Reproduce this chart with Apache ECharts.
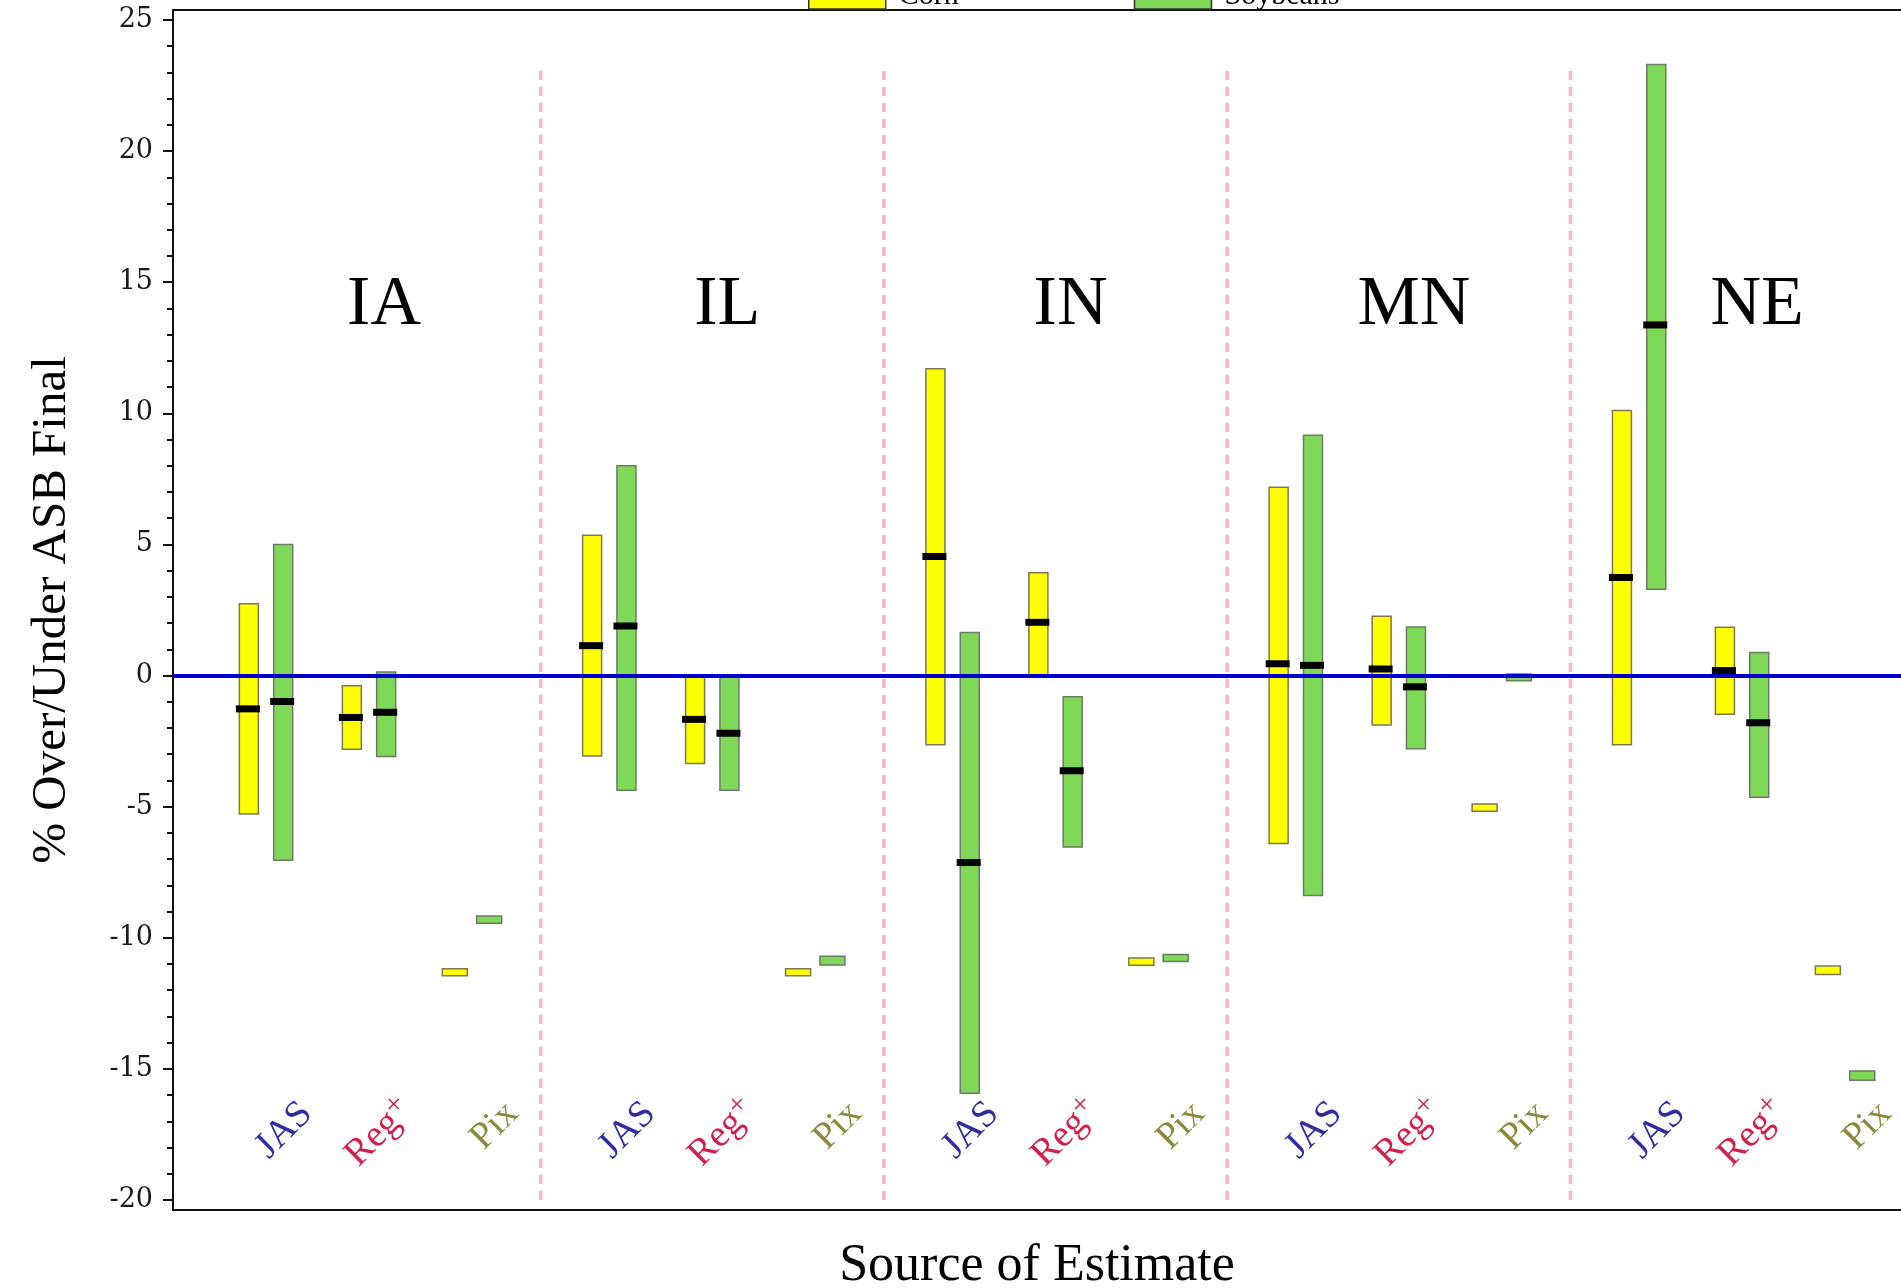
<!DOCTYPE html>
<html>
<head>
<meta charset="utf-8">
<script src="https://cdn.jsdelivr.net/npm/echarts@6/dist/echarts.min.js"></script>
<style>
  html, body { margin: 0; padding: 0; background: #fff; }
  #chart { width: 1901px; height: 1288px; }
</style>
</head>
<body>
<div id="chart"></div>
<script>
// ---------------- data ----------------
const STATES  = ['IA', 'IL', 'IN', 'MN', 'NE'];
const SOURCES = ['JAS', 'Reg', 'Pix'];
// order inside each state: JAS, Reg, Pix
const CORN_LOW  = [ -5.28, -2.81, -11.45,   -3.07, -3.35, -11.45,   -2.64,  0.00, -11.05,   -6.40, -1.89, -5.17,   -2.64, -1.48, -11.40 ];
const CORN_HIGH = [  2.74, -0.39, -11.18,    5.35,  0.00, -11.18,   11.70,  3.92, -10.77,    7.18,  2.26, -4.90,   10.11,  1.84, -11.08 ];
const CORN_EST  = [ -1.27, -1.60,  null,     1.14, -1.67,  null,     4.54,  2.03,  null,     0.45,  0.25,  null,    3.74,  0.19,  null  ];
const SOY_LOW   = [ -7.04, -3.09,  -9.45,   -4.37, -4.37, -11.04,  -15.93, -6.54, -10.90,   -8.39, -2.79, -0.20,    3.29, -4.64, -15.43 ];
const SOY_HIGH  = [  5.00,  0.14,  -9.17,    8.00,  0.00, -10.70,    1.64, -0.81, -10.64,    9.16,  1.85,  0.06,   23.30,  0.88, -15.08 ];
const SOY_EST   = [ -0.99, -1.40,  null,     1.89, -2.20,  null,    -7.13, -3.63,  null,     0.39, -0.43,  null,   13.37, -1.80,  null  ];
const Y_TICKS   = [-20, -15, -10, -5, 0, 5, 10, 15, 20, 25];

// ---------------- layout ----------------
const GROUP = 10, SRC_START = 2, SRC_STEP = 3;
const X_MIN = -0.71, X_MAX = 49.63;
const Y_MIN = -20.38, Y_MAX = 25.38;
const STATE_LABEL_Y = 14.1;
const SRC_LABEL_Y = -17.0;
const SERIF = '"Liberation Serif", "Times New Roman", serif';
const SRC_COLORS = ['#2E2E9E', '#D0204C', '#8C893C'];

function slotX(s, j) { return s * GROUP + SRC_START + j * SRC_STEP; }

function buildCrop(low, high, est) {
  const d = [];
  STATES.forEach((st, s) => SOURCES.forEach((src, j) => {
    const k = s * SOURCES.length + j;
    d.push([slotX(s, j), low[k], high[k], est[k] == null ? '-' : est[k], j]);
  }));
  return d;
}

const minorTicks = [];
for (let v = Y_TICKS[0]; v <= Y_TICKS[Y_TICKS.length - 1]; v++) if (v % 5 !== 0) minorTicks.push(v);

const DIV_LOW = Y_TICKS[0];
const DIV_HIGH = Math.max(...CORN_HIGH, ...SOY_HIGH);

function cropRender(offset, color, border) {
  return function (params, api) {
    const x = api.value(0), lo = api.value(1), hi = api.value(2), est = api.value(3), j = api.value(4);
    const w = j === 2 ? 25 : 19;
    const pTop = api.coord([x + offset, hi]);
    const pBot = api.coord([x + offset, lo]);
    const children = [{
      type: 'rect',
      shape: { x: pTop[0] - w / 2, y: pTop[1], width: w, height: Math.max(pBot[1] - pTop[1], 1) },
      style: { fill: color, stroke: border, lineWidth: 1.5 }
    }];
    if (isFinite(est)) {
      const pe = api.coord([x + offset, est]);
      children.push({ type: 'rect', shape: { x: pe[0] - 13, y: pe[1] - 3.5, width: 24, height: 7 }, style: { fill: '#000' } });
    }
    return { type: 'group', children };
  };
}

const frameLine = { show: true, onZero: false, lineStyle: { color: '#111', width: 2 } };

const chart = echarts.init(document.getElementById('chart'));
const option = {
  animation: false,
  backgroundColor: '#fff',
  legend: {
    top: -24, left: 803, itemWidth: 77, itemHeight: 26, itemGap: 175,
    textStyle: { fontFamily: SERIF, fontSize: 30, color: '#000', padding: [0, 0, 0, 8] },
    data: [
      { name: 'Corn', icon: 'rect', itemStyle: { color: '#FFFF00', borderColor: '#333', borderWidth: 1.5 } },
      { name: 'Soybeans', icon: 'rect', itemStyle: { color: '#80D858', borderColor: '#333', borderWidth: 1.5 } }
    ]
  },
  grid: { left: 173, right: 0, top: 10, bottom: 78, containLabel: false, outerBoundsMode: 'none' },
  xAxis: [
    {
      type: 'value', min: X_MIN, max: X_MAX, position: 'bottom',
      axisLine: frameLine,
      axisTick: { show: false }, axisLabel: { show: false }, splitLine: { show: false },
      name: 'Source of Estimate', nameLocation: 'middle', nameGap: 30,
      nameTextStyle: { fontFamily: SERIF, fontSize: 52, color: '#000' }
    },
    {
      type: 'value', min: X_MIN, max: X_MAX, position: 'top',
      axisLine: frameLine,
      axisTick: { show: false }, axisLabel: { show: false }, splitLine: { show: false }
    }
  ],
  yAxis: [
    {
      type: 'value', min: Y_MIN, max: Y_MAX, position: 'left',
      axisLine: frameLine,
      axisTick: { show: true, length: 10, customValues: Y_TICKS, lineStyle: { color: '#111', width: 2 } },
      axisLabel: { show: true, customValues: Y_TICKS, margin: 20, fontFamily: '"DejaVu Serif", serif', fontSize: 27, color: '#1a1a1a' },
      splitLine: { show: false },
      name: '% Over/Under ASB Final', nameLocation: 'middle', nameGap: 96,
      nameTextStyle: { fontFamily: SERIF, fontSize: 49, color: '#000' }
    },
    {
      type: 'value', min: Y_MIN, max: Y_MAX, position: 'left',
      axisLine: { show: false, onZero: false },
      axisTick: { show: true, length: 6, customValues: minorTicks, lineStyle: { color: '#111', width: 2 } },
      axisLabel: { show: false }, splitLine: { show: false }
    }
  ],
  series: [
    {
      name: 'zero', type: 'line', data: [], z: 1, silent: true,
      markLine: {
        silent: true, symbol: 'none', label: { show: false },
        lineStyle: { color: '#0000CC', width: 4, type: 'solid' },
        data: [{ yAxis: 0 }]
      }
    },
    {
      name: 'dividers', type: 'custom', z: 2, silent: true,
      data: STATES.slice(1).map((s, i) => [(i + 1) * GROUP]),
      encode: { x: 0 },
      renderItem: function (params, api) {
        const x = api.value(0);
        const a = api.coord([x, DIV_LOW]), b = api.coord([x, DIV_HIGH]);
        return { type: 'line', shape: { x1: a[0], y1: a[1], x2: b[0], y2: b[1] },
                 style: { stroke: '#FBB4C6', lineWidth: 3.5, lineDash: [9, 7] } };
      }
    },
    {
      name: 'Corn', type: 'custom', z: 3,
      data: buildCrop(CORN_LOW, CORN_HIGH, CORN_EST),
      encode: { x: 0, y: [1, 2] },
      itemStyle: { color: '#FFFF00' },
      renderItem: cropRender(-0.5, '#FFFF00', '#7d7850')
    },
    {
      name: 'Soybeans', type: 'custom', z: 3,
      data: buildCrop(SOY_LOW, SOY_HIGH, SOY_EST),
      encode: { x: 0, y: [1, 2] },
      itemStyle: { color: '#80D858' },
      renderItem: cropRender(0.5, '#80D858', '#6c7a66')
    },
    {
      name: 'stateLabels', type: 'custom', z: 4, silent: true,
      data: STATES.map((s, i) => [i * GROUP + GROUP / 2, i]),
      encode: { x: 0 },
      renderItem: function (params, api) {
        const p = api.coord([api.value(0), STATE_LABEL_Y]);
        return { type: 'text', x: p[0] + 15, y: p[1],
                 style: { text: STATES[api.value(1)], fill: '#000', align: 'center', verticalAlign: 'middle',
                          font: '70px ' + SERIF } };
      }
    },
    {
      name: 'sourceLabels', type: 'custom', z: 4, silent: true,
      data: (function () { const d = []; STATES.forEach((st, s) => SOURCES.forEach((src, j) => d.push([slotX(s, j), j]))); return d; })(),
      encode: { x: 0 },
      renderItem: function (params, api) {
        const j = api.value(1);
        const p = api.coord([api.value(0), SRC_LABEL_Y]);
        const isReg = SOURCES[j] === 'Reg';
        return { type: 'text', x: p[0] + 54, y: p[1], rotation: Math.PI / 4,
                 style: {
                   text: isReg ? '{m|' + SOURCES[j] + '}{s|+}' : SOURCES[j],
                   fill: SRC_COLORS[j], align: 'right', verticalAlign: 'bottom',
                   font: '38px ' + SERIF,
                   rich: {
                     m: { fill: SRC_COLORS[j], font: '38px ' + SERIF },
                     s: { fill: SRC_COLORS[j], font: '30px ' + SERIF, padding: [0, 0, 16, 0] }
                   }
                 } };
      }
    }
  ]
};
chart.setOption(option);
</script>
</body>
</html>
